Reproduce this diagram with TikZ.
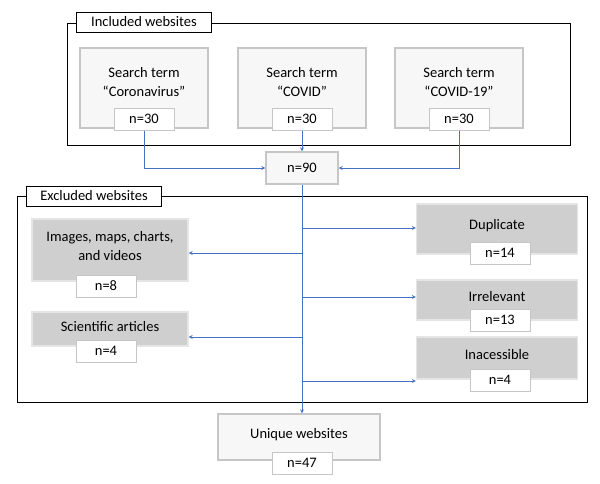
\documentclass[tikz,border=0pt]{standalone}
\usepackage{fontspec}
\setmainfont{Carlito}
\usetikzlibrary{arrows,positioning}
\definecolor{linkblue}{RGB}{68,114,196}
\tikzset{
  bevel/.style={rectangle, draw=gray!45, fill=gray!6, line width=1.2pt, align=center, font=\fontsize{14.5}{19}\selectfont},
  bevelgray/.style={rectangle, draw=gray!20, fill=gray!38, line width=1.2pt, align=center, font=\fontsize{14.5}{19}\selectfont},
  count/.style={rectangle, draw=gray!45, fill=white, line width=1pt, minimum width=60pt, minimum height=22pt, inner sep=1pt, font=\fontsize{14.5}{17}\selectfont},
  tag/.style={rectangle, draw=black, fill=white, line width=0.9pt, minimum height=20pt, inner sep=1pt, font=\fontsize{14.5}{17}\selectfont},
  flow/.style={->, >=stealth, linkblue, line width=0.8pt}
}
\begin{document}
\begin{tikzpicture}[x=1pt,y=-1pt]
      \useasboundingbox (0,0) rectangle (600,483);
      % frames
      \draw[line width=0.9pt] (67,23) rectangle (570,145);
      \draw[line width=0.9pt] (17,196) rectangle (587,402);
      \node[tag, minimum width=135pt] at (144,22) (inc) {Included websites};
      \node[tag, minimum width=135pt] at (94,196) (exc) {Excluded websites};
      % search terms
      \node[bevel, minimum width=128pt, minimum height=80pt, text depth=12pt] at (144,88) (corona) {Search term\\``Coronavirus''};
      \node[bevel, minimum width=128pt, minimum height=80pt, text depth=12pt] at (302,88) (covid) {Search term\\``COVID''};
      \node[bevel, minimum width=128pt, minimum height=80pt, text depth=12pt] at (459,88) (covid19) {Search term\\``COVID-19''};
      \node[count] at (144,119) (nc) {n=30};
      \node[count] at (302,119) (nv) {n=30};
      \node[count] at (459,119) (n19) {n=30};
      \node[bevel, minimum width=72pt, minimum height=32pt] at (302,168) (total) {n=90};
      % excluded
      \node[bevelgray, minimum width=156pt, minimum height=62pt, text depth=8pt] at (110,250) (media) {Images, maps, charts,\\and videos};
      \node[count] at (106,286) (nm) {n=8};
      \node[bevelgray, minimum width=156pt, minimum height=34pt, text depth=6pt] at (110,329) (sci) {Scientific articles};
      \node[count] at (106,351) (ns) {n=4};
      \node[bevelgray, minimum width=161pt, minimum height=50pt, text depth=10pt] at (497,229) (dup) {Duplicate};
      \node[count] at (500,253) (nd) {n=14};
      \node[bevelgray, minimum width=161pt, minimum height=40pt, text depth=8pt] at (497,300) (irr) {Irrelevant};
      \node[count] at (500,320) (ni) {n=13};
      \node[bevelgray, minimum width=161pt, minimum height=42pt, text depth=8pt] at (497,358) (ina) {Inacessible};
      \node[count] at (500,380) (na) {n=4};
      \node[bevel, minimum width=162pt, minimum height=46pt, text depth=8pt] at (299,437) (uniq) {Unique websites};
      \node[count] at (302,463) (nu) {n=47};
      % connectors
      \draw[flow] (nc) |- (total);
      \draw[flow] (n19) |- (total);
      \draw[flow] (nv) -- (total);
      \draw[flow] (total) -- (uniq.north -| total);
      \draw[flow] (302,228) -- (dup.west |- 0,228);
      \draw[flow] (302,253) -- (media.east |- 0,253);
      \draw[flow] (302,297) -- (irr.west |- 0,297);
      \draw[flow] (302,337) -- (sci.east |- 0,337);
      \draw[flow] (302,381) -- (ina.west |- 0,381);
\end{tikzpicture}
\end{document}
